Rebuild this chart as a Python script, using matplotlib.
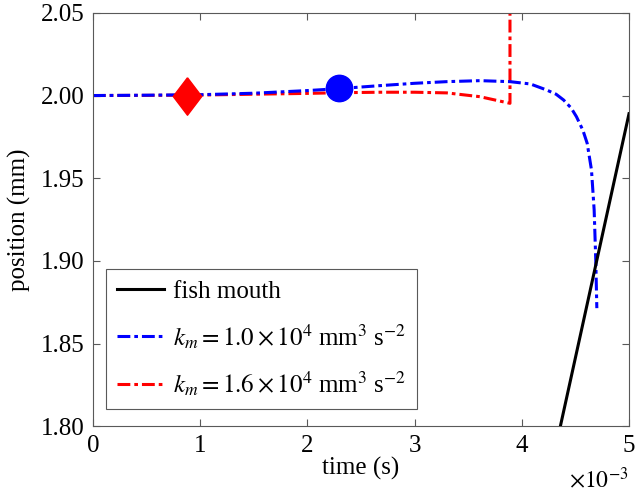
import numpy as np
import matplotlib
matplotlib.use('Agg')
import matplotlib.pyplot as plt
from matplotlib.ticker import FuncFormatter

plt.rcParams.update({
    'font.family': 'serif',
    'font.serif': ['Liberation Serif', 'DejaVu Serif'],
    'mathtext.fontset': 'stix',
    'font.size': 18,
})

# time in ms, position in mm
t_mouth = [4.36, 5.0]
y_mouth = [1.80, 1.989]

t_k1 = [0, 0.5, 1.0, 1.5, 2.0, 2.3, 2.68, 3.0, 3.3, 3.61, 3.89, 4.08, 4.23, 4.32,
        4.39, 4.46, 4.51, 4.57, 4.61, 4.65, 4.675, 4.69, 4.70]
y_k1 = [2.000, 2.0002, 2.0005, 2.0014, 2.0030, 2.0042, 2.0060, 2.0074, 2.0084,
        2.0090, 2.0084, 2.0070, 2.0034, 2.0008, 1.9973, 1.9925, 1.9872, 1.9790,
        1.9711, 1.955, 1.9308, 1.9005, 1.8714]

t_k2 = [0, 0.5, 1.0, 1.5, 2.0, 2.3, 2.68, 3.0, 3.3, 3.61, 3.89, 3.89]
y_k2 = [2.000, 2.0001, 2.0003, 2.0008, 2.0013, 2.0017, 2.0020, 2.0020, 2.0016,
        1.9993, 1.9953, 2.06]

# markers
t_diamond, y_diamond = 0.88, 2.000
t_circle, y_circle = 2.3, 2.0044

ms = 1e-3
fig = plt.figure(figsize=(6.36, 4.95), dpi=100)
ax = fig.add_axes([0.146, 0.139, 0.843, 0.835])

dashdot = (0, (4.2, 1.3, 1.2, 1.3))
l0, = ax.plot(np.array(t_mouth)*ms, y_mouth, color='k', lw=2.2, label='fish mouth', zorder=3)
l2, = ax.plot(np.array(t_k2)*ms, y_k2, color='#ff0000', lw=2.2, ls=dashdot,
              label=r'$k_m = 1.6 \times 10^4$ mm$^3$ s$^{-2}$', zorder=2)
l1, = ax.plot(np.array(t_k1)*ms, y_k1, color='#0000ff', lw=2.2, ls=dashdot,
              label=r'$k_m = 1.0 \times 10^4$ mm$^3$ s$^{-2}$', zorder=2.5)

diamond = [(0, 1), (0.76, 0), (0, -1), (-0.76, 0), (0, 1)]
ax.plot([t_diamond*ms], [y_diamond], marker=diamond, ms=27, color='#ff0000', ls='none', zorder=4)
ax.plot([t_circle*ms], [y_circle], marker='o', ms=19, color='#0000ff', ls='none', zorder=4)

ax.set_xlim(0, 5e-3)
ax.set_ylim(1.80, 2.05)
ax.set_xticks(np.arange(0, 6)*ms)
ax.xaxis.set_major_formatter(FuncFormatter(lambda v, p: '%g' % round(v/ms, 6)))
ax.set_yticks([1.80, 1.85, 1.90, 1.95, 2.00, 2.05])
ax.set_yticklabels(['%.2f' % v for v in [1.80, 1.85, 1.90, 1.95, 2.00, 2.05]])
ax.tick_params(direction='in', top=True, right=True, length=5, width=0.8,
               color='0.35', pad=6)
for sp in ax.spines.values():
    sp.set_color('0.35')
    sp.set_linewidth(0.8)
# axis multiplier, bottom right
ax.text(1.0, -0.13, r'$\times 10^{-3}$', transform=ax.transAxes, ha='right', va='center',
        fontsize=17)

ax.set_xlabel('time (s)', labelpad=0)
ax.set_ylabel('position (mm)', labelpad=7)

leg = ax.legend(handles=[l0, l1, l2], loc='lower left', bbox_to_anchor=(0.024, 0.041),
                borderaxespad=0, fancybox=False, edgecolor='0.35', framealpha=1,
                handlelength=1.9, handletextpad=0.35, labelspacing=0.75, borderpad=0.45)
leg.get_frame().set_linewidth(0.8)

fig.savefig('out.png', dpi=100)
